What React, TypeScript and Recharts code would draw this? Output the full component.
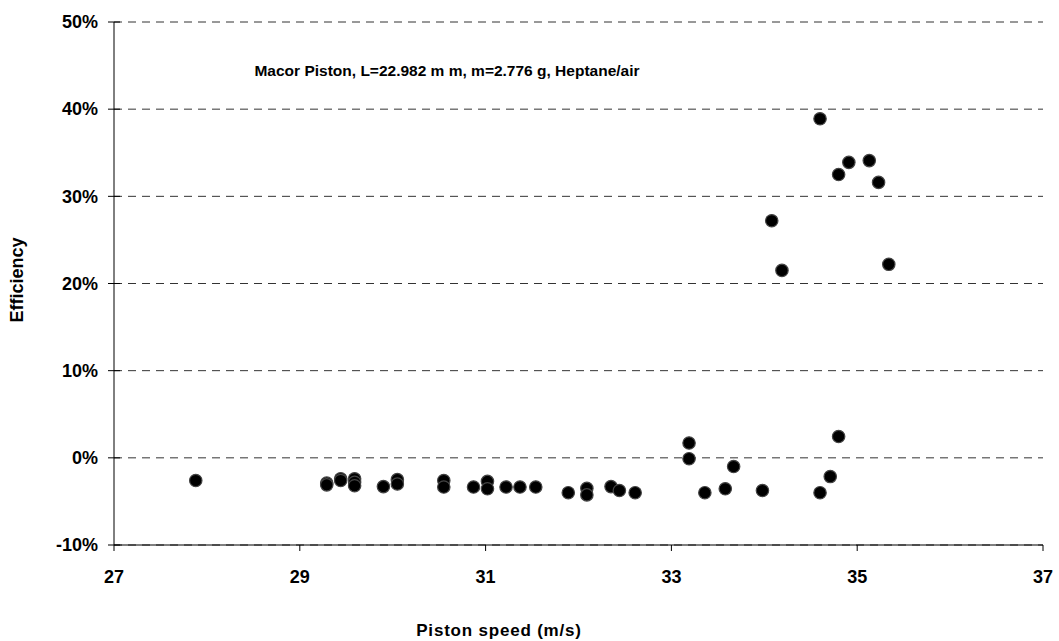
import React from 'react';
import { ScatterChart, Scatter, XAxis, YAxis, CartesianGrid } from 'recharts';

// piston speed (m/s) and efficiency (%)
const speeds = [
  27.88, 29.29, 29.29, 29.44, 29.44, 29.59, 29.59, 29.59, 29.9, 30.05, 30.05,
  30.55, 30.55, 30.87, 31.02, 31.02, 31.22, 31.37, 31.54, 31.89, 32.09, 32.09,
  32.35, 32.44, 32.61, 33.19, 33.19, 33.36, 33.58, 33.67, 33.98, 34.6, 34.71,
  34.8, 34.08, 34.19, 34.6, 34.8, 34.91, 35.13, 35.23, 35.34,
];
const efficiency = [
  -2.6, -2.9, -3.1, -2.4, -2.6, -2.4, -2.8, -3.2, -3.3, -2.5, -3.0,
  -2.6, -3.35, -3.35, -2.7, -3.55, -3.35, -3.35, -3.35, -4.0, -3.5, -4.25,
  -3.3, -3.75, -4.0, 1.7, -0.1, -4.0, -3.55, -1.0, -3.75, -4.0, -2.15,
  2.45, 27.2, 21.5, 38.9, 32.5, 33.9, 34.1, 31.6, 22.2,
];
const xTicks = [27, 29, 31, 33, 35, 37];
const yTicks = [-10, 0, 10, 20, 30, 40, 50];

const data = speeds.map((s, i) => ({ speed: s, eff: efficiency[i] }));

const font = 'Arial, "Liberation Sans", sans-serif';

const YTick = (props: any) => {
  const { x, y, payload } = props;
  return (
    <g>
      <line x1={x - 6} x2={x + 6} y1={y} y2={y} stroke="#000" />
      <text x={x - 16} y={y} dy="0.35em" textAnchor="end" fontSize={18} fontWeight="bold" fontFamily={font} fill="#000">
        {payload.value}%
      </text>
    </g>
  );
};

const XTick = (props: any) => {
  const { x, y, payload } = props;
  return (
    <g>
      <line x1={x} x2={x} y1={y} y2={y + 6} stroke="#000" />
      <text x={x} y={y + 32} dy="0.35em" textAnchor="middle" fontSize={18} fontWeight="bold" fontFamily={font} fill="#000">
        {payload.value}
      </text>
    </g>
  );
};

const Dot = (props: any) => (
  <circle cx={props.cx} cy={props.cy} r={6.2} fill="#000" stroke="#444" strokeWidth={1.2} />
);

export default function App() {
  return (
    <div style={{ position: 'absolute', left: 0, top: 0, width: 1059, height: 641 }}>
      <ScatterChart width={1059} height={641} margin={{ top: 22, right: 16, left: 0, bottom: 0 }}>
        <CartesianGrid vertical={false} strokeDasharray="8 6" stroke="#333" />
        <XAxis
          type="number"
          dataKey="speed"
          domain={[27, 37]}
          ticks={xTicks}
          height={96}
          tickSize={0}
          tickMargin={0}
          tickLine={false}
          stroke="#000"
          tick={<XTick />}
          label={{
            content: () => (
              <text x={499} y={630} dy="0.35em" textAnchor="middle" fontSize={17} fontWeight="bold" fontFamily={font} letterSpacing={0.8}>
                Piston speed (m/s)
              </text>
            ),
          }}
        />
        <YAxis
          type="number"
          dataKey="eff"
          domain={[-10, 50]}
          ticks={yTicks}
          width={114}
          tickSize={0}
          tickMargin={0}
          tickLine={false}
          stroke="#000"
          tick={<YTick />}
          label={{
            content: () => (
              <text x={17} y={280} dy="0.35em" textAnchor="middle" fontSize={18} fontWeight="bold" fontFamily={font} transform="rotate(-90 17 280)">
                Efficiency
              </text>
            ),
          }}
        />
        <Scatter data={data} shape={<Dot />} isAnimationActive={false} />
      </ScatterChart>
      <div
        style={{
          position: 'absolute',
          left: 247,
          top: 62,
          width: 400,
          textAlign: 'center',
          fontFamily: font,
          fontWeight: 'bold',
          fontSize: 15.5,
          whiteSpace: 'nowrap',
        }}
      >
        Macor Piston, L=22.982 m m, m=2.776 g, Heptane/air
      </div>
    </div>
  );
}
